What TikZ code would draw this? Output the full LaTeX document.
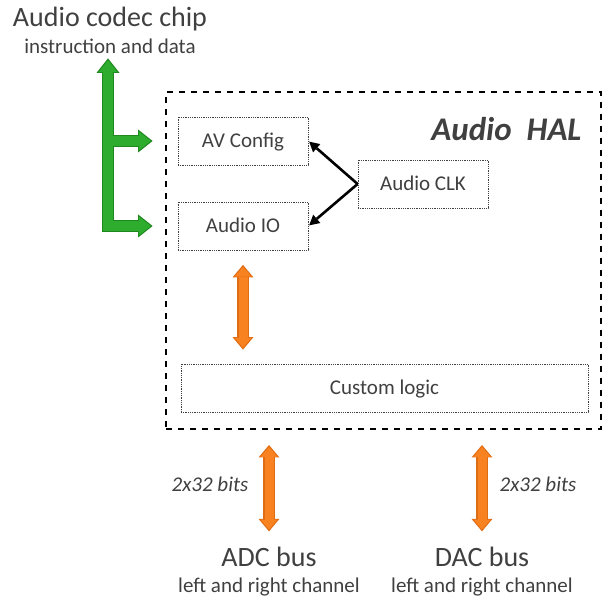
\documentclass[tikz,border=0pt]{standalone}
\usepackage{fontspec}
\setmainfont{Carlito}
\usepackage{tikz}
\usetikzlibrary{arrows.meta,positioning}
\definecolor{grisTexto}{RGB}{64,64,64}
\definecolor{verde}{RGB}{46,172,46}
\definecolor{verdeOscuro}{RGB}{30,135,30}
\definecolor{naranja}{RGB}{248,130,32}
\definecolor{naranjaOscuro}{RGB}{222,108,20}
\tikzstyle{block}=[draw=black!75, dash pattern=on 0.9pt off 0.9pt,
                   line width=0.8pt, minimum width=130pt, minimum height=48pt,
                   text=grisTexto, font=\fontsize{21}{25}\selectfont,
                   text height=17pt, text depth=3pt]
\tikzstyle{halbox}=[draw=black, dash pattern=on 6pt off 6pt, line width=2.6pt]
\tikzstyle{busname}=[text=grisTexto, inner sep=0pt, font=\fontsize{28}{32}\selectfont]
\tikzstyle{busnote}=[text=grisTexto, inner sep=0pt, font=\fontsize{21}{25}\selectfont]
\tikzstyle{bits}=[text=grisTexto, inner sep=0pt, font=\fontsize{21}{25}\selectfont\itshape]
\tikzstyle{clkline}=[line width=2.6pt, black, shorten >=1pt,
                     -{Triangle[length=10pt,width=11pt,line width=0pt]}]
\tikzstyle{databus}=[draw=naranja, line width=9pt, shorten <=1.8pt, shorten >=1.8pt,
    {Triangle[length=10pt,width=17pt,line width=0pt]}-{Triangle[length=10pt,width=17pt,line width=0pt]},
    preaction={draw=naranjaOscuro, line width=12pt, shorten <=0pt, shorten >=0pt,
    {Triangle[length=12.5pt,width=21pt,line width=0pt]}-{Triangle[length=12.5pt,width=21pt,line width=0pt]}}]
\tikzstyle{codecbus}=[draw=verde, line width=9.5pt, shorten <=1.8pt, shorten >=1.8pt,
    {Triangle[length=12pt,width=19pt,line width=0pt]}-{Triangle[length=12pt,width=19pt,line width=0pt]},
    preaction={draw=verdeOscuro, line width=12.5pt, shorten <=0pt, shorten >=0pt,
    {Triangle[length=14.5pt,width=23pt,line width=0pt]}-{Triangle[length=14.5pt,width=23pt,line width=0pt]}}]
\tikzstyle{codectap}=[draw=verde, line width=9.5pt, shorten >=1.8pt,
    -{Triangle[length=12pt,width=19pt,line width=0pt]},
    preaction={draw=verdeOscuro, line width=12.5pt, shorten >=0pt,
    -{Triangle[length=14.5pt,width=23pt,line width=0pt]}}]

\begin{document}
\begin{tikzpicture}[x=1pt,y=-1pt]
    \useasboundingbox (0,0) rectangle (606,601);

    \node (hal) [halbox, minimum width=435pt, minimum height=337pt] at (383.5,260.5) {};
    \node (haltitle) [anchor=base east, text=grisTexto,
        font=\fontsize{33}{38}\selectfont\bfseries\itshape] at (585,141) {Audio\hspace{15pt}HAL};

    \node (avcfg) [block] at (243,141) {AV Config};
    \node (audioio) [block] at (243,226) {Audio IO};
    \node (clk) [block] at (423,184) {Audio CLK};
    \node (logic) [block, minimum width=407pt] at (384.5,388) {Custom logic};

    \node (chip) [anchor=base, text=grisTexto, inner sep=0pt,
        font=\fontsize{28}{32}\selectfont] at (110,27) {Audio codec chip};
    \node (chipsub) [busnote, anchor=base] at (110,54) {instruction and data};

    \node (adc) [busname, anchor=base] at (269,567) {ADC bus};
    \node (adcsub) [busnote, anchor=base] at (269,593) {left and right channel};
    \node (dac) [busname, anchor=base] at (482,567) {DAC bus};
    \node (dacsub) [busnote, anchor=base] at (482,593) {left and right channel};
    \node (adcbits) [bits, anchor=base] at (210,492) {2x32 bits};
    \node (dacbits) [bits, anchor=base] at (538,492) {2x32 bits};

    \draw[codecbus] ([xshift=-2pt,yshift=-4pt]chipsub.south) |- ([xshift=-25pt]audioio.west);
    \draw[codectap] ([xshift=2.5pt]chipsub.south |- avcfg.west) -- ([xshift=-25pt]avcfg.west);

    \foreach \t in {avcfg,audioio}
        \draw[clkline] (clk.west) -- (\t.east);

    \draw[databus] ([yshift=-14.5pt]audioio.south) -- ([yshift=14pt]audioio.south |- logic.north);
    \foreach \b in {adc,dac}
        \draw[databus] ([yshift=-14.7pt]hal.south -| \b.north) -- ([yshift=16pt]\b.north);

\end{tikzpicture}
\end{document}
